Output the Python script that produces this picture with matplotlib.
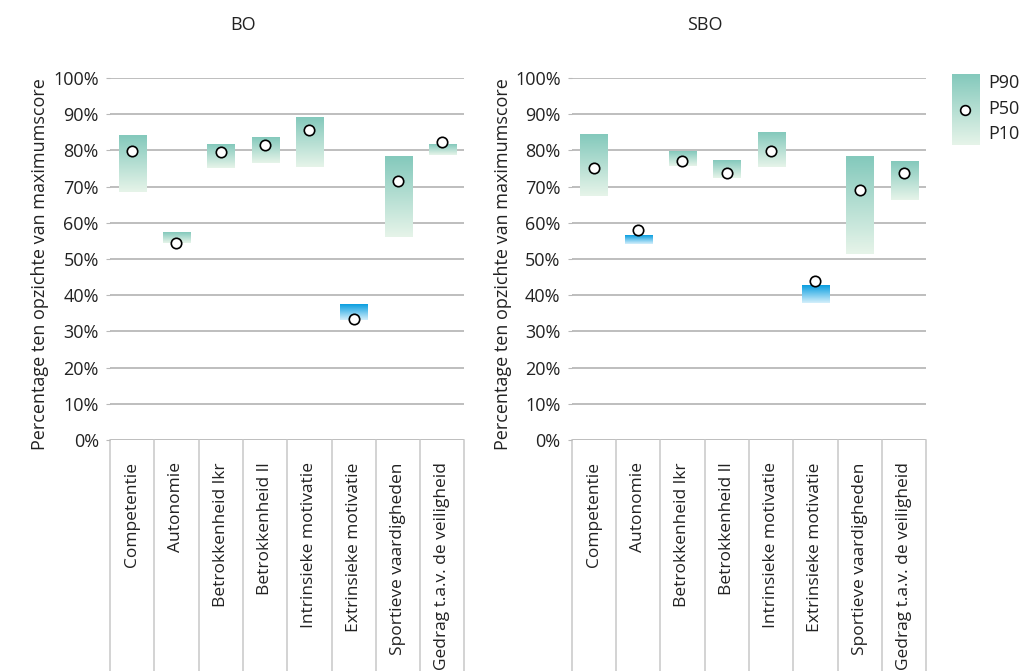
import numpy as np
import matplotlib
matplotlib.use("Agg")
import matplotlib.pyplot as plt
from matplotlib.colors import LinearSegmentedColormap
import matplotlib.transforms as mtransforms

plt.rcParams['font.family'] = ['Open Sans', 'DejaVu Sans']

categories = ["Competentie", "Autonomie", "Betrokkenheid lkr", "Betrokkenheid ll",
              "Intrinsieke motivatie", "Extrinsieke motivatie",
              "Sportieve vaardigheden", "Gedrag t.a.v. de veiligheid"]

# BO
bo_p90 = [84.2, 57.3, 81.7, 83.6, 89.1, 37.4, 78.3, 81.4]
bo_p50 = [79.7, 54.5, 79.6, 81.6, 85.6, 33.4, 71.6, 82.4]
bo_p10 = [68.5, 54.3, 75.1, 76.5, 75.4, 33.1, 56.0, 78.6]
bo_blue = [False, False, False, False, False, True, False, False]

# SBO
sbo_p90 = [84.2, 56.5, 79.8, 77.0, 85.0, 42.7, 78.3, 76.7]
sbo_p50 = [75.1, 58.1, 77.2, 73.8, 79.8, 44.0, 69.0, 73.8]
sbo_p10 = [67.3, 54.1, 75.7, 72.3, 75.4, 37.8, 51.3, 66.2]
sbo_blue = [False, True, False, False, False, True, False, False]

yticks = [0, 10, 20, 30, 40, 50, 60, 70, 80, 90, 100]

teal = LinearSegmentedColormap.from_list("teal", ["#e6f4e9", "#84c9bc"])
blue = LinearSegmentedColormap.from_list("blue", ["#d4effb", "#0a9ee0"])
grad = np.linspace(0, 1, 100).reshape(-1, 1)
grid_col = "#b9b9b9"
text_col = "#222222"

fig = plt.figure(figsize=(10.24, 6.71), dpi=100)


def panel(left, p90, p50, p10, flags):
    ax = fig.add_axes([left, 0.3443, 0.3462, 0.5395])
    w = 0.61
    for i in range(len(categories)):
        cmap = blue if flags[i] else teal
        ax.imshow(grad, extent=[i - w / 2, i + w / 2, p10[i], p90[i]],
                  origin="lower", aspect="auto", cmap=cmap, zorder=2)
    ax.plot(range(len(categories)), p50, "o", ls="none", ms=7.5,
            mfc="white", mec="black", mew=1.2, zorder=3)
    ax.set_xlim(-0.5, len(categories) - 0.5)
    ax.set_ylim(0, 100)
    ax.set_yticks(yticks)
    ax.set_yticklabels([f"{t}%" for t in yticks], fontsize=13, color=text_col)
    for y in yticks:
        ax.axhline(y, color=grid_col, lw=1.3, zorder=1)
    for s in ax.spines.values():
        s.set_visible(False)
    ax.tick_params(axis="y", length=3, color=grid_col, pad=5)
    ax.set_xticks(range(len(categories)))
    ax.set_xticklabels(categories, rotation=90, fontsize=12.5, color=text_col,
                       va="top", ha="center")
    ax.tick_params(axis="x", length=0, pad=16)
    trans = mtransforms.blended_transform_factory(ax.transData, ax.transAxes)
    for k in range(len(categories) + 1):
        ax.plot([k - 0.5, k - 0.5], [0, -1], color="#c8c8c8", lw=1.1,
                transform=trans, clip_on=False, zorder=1)
    return ax


panel(0.1074, bo_p90, bo_p50, bo_p10, bo_blue)
panel(0.5583, sbo_p90, sbo_p50, sbo_p10, sbo_blue)

fig.text(243 / 1024, 1 - 25 / 671, "BO", ha="center", va="center", fontsize=13, color=text_col)
fig.text(705 / 1024, 1 - 25 / 671, "SBO", ha="center", va="center", fontsize=13, color=text_col)
ylab = "Percentage ten opzichte van maximumscore"
fig.text(40 / 1024, 1 - 264 / 671, ylab, rotation=90, ha="center", va="center",
         fontsize=13, color=text_col)
fig.text(503 / 1024, 1 - 264 / 671, ylab, rotation=90, ha="center", va="center",
         fontsize=13, color=text_col)

# legend
lax = fig.add_axes([952 / 1024, 1 - 145 / 671, 28 / 1024, 71 / 671])
lax.imshow(grad, extent=[0, 1, 0, 1], origin="lower", aspect="auto", cmap=teal)
lax.plot([0.45], [0.5], "o", ms=7, mfc="white", mec="black", mew=1.2)
lax.set_xlim(0, 1)
lax.set_ylim(0, 1)
lax.axis("off")
for lbl, yy in [("P90", 83), ("P50", 109), ("P10", 134)]:
    fig.text(988 / 1024, 1 - yy / 671, lbl, ha="left", va="center",
             fontsize=13, color=text_col)

fig.savefig("out.png", dpi=100)
